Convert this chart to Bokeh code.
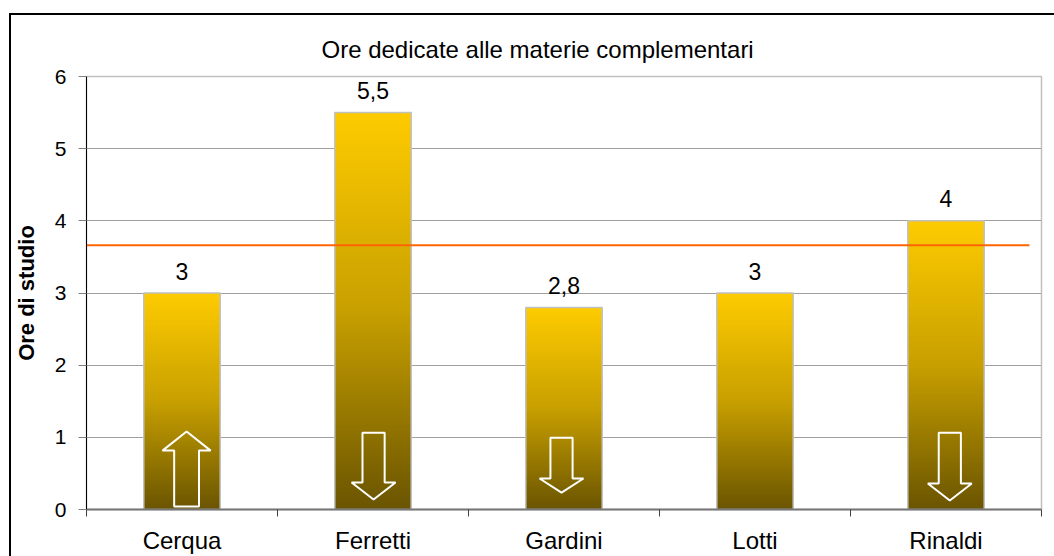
import numpy as np
from bokeh.plotting import figure
from bokeh.models import Range1d, FixedTicker
from bokeh.core.properties import value
from bokeh.embed import file_html
from bokeh.resources import INLINE

# ---------------- data ----------------
students = ["Cerqua", "Ferretti", "Gardini", "Lotti", "Rinaldi"]
hours = [3, 5.5, 2.8, 3, 4]
y_ticks = [0, 1, 2, 3, 4, 5, 6]
title_text = "Ore dedicate alle materie complementari"
y_label = "Ore di studio"

# arrows drawn inside some bars (annotation)
arrow_students = ["Cerqua", "Ferretti", "Gardini", "Rinaldi"]
arrow_dir = ["up", "down", "down", "down"]

FONT = "Liberation Sans"
mean_hours = sum(hours) / len(hours)
xs = list(range(len(students)))
bar_w = 0.4

p = figure(width=1054, height=556, output_backend="svg", toolbar_location=None,
           x_range=Range1d(-0.5, 4.5), y_range=Range1d(0, 6),
           min_border_left=86, min_border_right=13, min_border_top=76,
           min_border_bottom=46)
p.background_fill_color = "white"
p.border_fill_alpha = 0
p.outline_line_color = "#C0C0C0"
p.outline_line_width = 1.5
# outer chart-area border (left + top; right/bottom lie outside the window)
p.styles = {"box-shadow": "inset 9px 13px 0 0 white, inset 11px 15px 0 0 black"}

# title
p.title.text = title_text
p.title.align = "left"
p.title.offset = 235
p.title.standoff = 27
p.title.text_font = FONT
p.title.text_font_size = "24px"
p.title.text_font_style = "normal"
p.title.text_color = "black"

# gradient for the bars (bottom dark olive -> top gold)
def gradient(n=256):
    stops = [(0.0, (0x6B, 0x55, 0x00)), (0.5, (0xC8, 0xA0, 0x00)), (1.0, (0xFF, 0xCC, 0x00))]
    t = np.linspace(0, 1, n)
    img = np.empty((n, 1), dtype=np.uint32)
    v = img.view(dtype=np.uint8).reshape((n, 1, 4))
    pos = [s[0] for s in stops]
    for c in range(3):
        v[:, 0, c] = np.interp(t, pos, [s[1][c] for s in stops]).astype(np.uint8)
    v[:, 0, 3] = 255
    return img

g = gradient()
p.image_rgba(image=[g] * len(hours), x=[x - bar_w / 2 for x in xs], y=[0] * len(hours),
             dw=[bar_w] * len(hours), dh=hours)
p.vbar(x=xs, top=hours, bottom=0, width=bar_w, fill_alpha=0,
       line_color="#C0C0C0", line_width=1.5)

# mean line
p.segment(x0=-0.5, y0=mean_hours, x1=4.437, y1=mean_hours,
          line_color="#FF6600", line_width=2)

# value labels
labels = [("%g" % h).replace(".", ",") for h in hours]
p.text(x=xs, y=hours, text=labels, text_align="center", text_baseline="alphabetic",
       y_offset=-22, text_font=value(FONT), text_font_size="23px", text_color="black")

# arrows (annotation shapes)
arrow_geom = {
    # dx, tail, head base, tip, shaft half width, head half width
    "Cerqua": (0.024, 0.04, 0.816, 1.08, 0.065, 0.126),
    "Ferretti": (0.003, 1.065, 0.373, 0.138, 0.058, 0.115),
    "Gardini": (-0.013, 0.995, 0.43, 0.235, 0.058, 0.115),
    "Rinaldi": (0.02, 1.065, 0.36, 0.124, 0.058, 0.115),
}
axs, ays = [], []
for name, d in zip(arrow_students, arrow_dir):
    dx, tail, base, tip, sw, hw = arrow_geom[name]
    c = students.index(name) + dx
    axs.append([c - sw, c - sw, c - hw, c, c + hw, c + sw, c + sw])
    ays.append([tail, base, base, tip, base, base, tail])
p.patches(xs=axs, ys=ays, fill_alpha=0, line_color="white", line_width=2)

# x axis
xa = p.xaxis[0]
xa.ticker = FixedTicker(ticks=xs, minor_ticks=[x - 0.5 for x in xs] + [4.5])
xa.major_label_overrides = {i: s for i, s in enumerate(students)}
xa.major_tick_line_color = None
xa.major_tick_in = 0
xa.major_tick_out = 7
xa.minor_tick_in = 0
xa.minor_tick_out = 7
xa.minor_tick_line_color = "#404040"
xa.axis_line_color = "#777777"
xa.axis_line_width = 2
xa.major_label_standoff = 10
xa.major_label_text_font = FONT
xa.major_label_text_font_size = "24px"
xa.major_label_text_color = "black"

# y axis
ya = p.yaxis[0]
ya.ticker = FixedTicker(ticks=y_ticks)
ya.major_tick_in = 0
ya.major_tick_out = 8
ya.major_tick_line_color = "#808080"
ya.minor_tick_line_color = None
ya.axis_line_color = "black"
ya.axis_line_width = 1
ya.major_label_standoff = 12
ya.major_label_text_font = FONT
ya.major_label_text_font_size = "21px"
ya.major_label_text_color = "black"
ya.axis_label = y_label
ya.axis_label_text_font = FONT
ya.axis_label_text_font_size = "22px"
ya.axis_label_text_font_style = "bold"
ya.axis_label_text_color = "black"
ya.axis_label_standoff = 13

p.xgrid.visible = False
p.ygrid.ticker = FixedTicker(ticks=y_ticks[1:])
p.ygrid.grid_line_color = "#A0A0A0"
p.ygrid.grid_line_width = 1

open("out.html", "w").write(file_html(p, INLINE))
